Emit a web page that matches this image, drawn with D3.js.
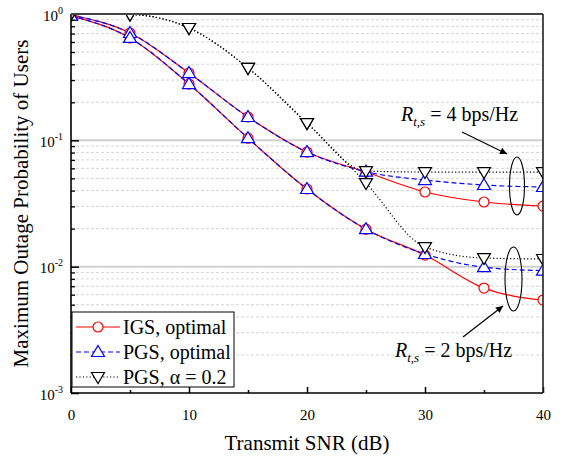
<!DOCTYPE html>
<html>
<head>
<meta charset="utf-8">
<script src="https://cdn.jsdelivr.net/npm/d3@7"></script>
<style>
  body { margin: 0; background: #fff; }
  svg { font-family: "Liberation Serif", "Times New Roman", serif; }
</style>
</head>
<body>
<div id="container"></div>
<script>
// data
const snr = [0, 5, 10, 15, 20, 25, 30, 35, 40];
const igs4 = [0.982, 0.707, 0.341, 0.153, 0.0808, 0.0561, 0.039, 0.0325, 0.0302];
const pgs4 = [0.982, 0.707, 0.341, 0.153, 0.0808, 0.0565, 0.0485, 0.0443, 0.0427];
const alpha4 = [1.0, 0.99, 0.775, 0.374, 0.137, 0.0571, 0.0561, 0.0561, 0.0561];
const igs2 = [0.968, 0.646, 0.279, 0.104, 0.0412, 0.0198, 0.01235, 0.00677, 0.00544];
const pgs2 = [0.968, 0.646, 0.279, 0.104, 0.0412, 0.0198, 0.0126, 0.0099, 0.0093];
const alpha2 = [1.0, 0.99, 0.775, 0.374, 0.137, 0.0459, 0.0143, 0.0117, 0.0115];

const xMajor = [0, 10, 20, 30, 40];
const xMinor = [5, 15, 25, 35];
const yDecades = [1e-3, 1e-2, 1e-1, 1];
const yExp = ["-3", "-2", "-1", "0"];
const legendLabels = ["IGS, optimal", "PGS, optimal", "PGS, \u03b1 = 0.2"];

const margin = {top: 14, right: 18, bottom: 63, left: 71},
      width = 561 - margin.left - margin.right,
      height = 456 - margin.top - margin.bottom;

const svg = d3.select("#container").append("svg")
  .attr("width", 561)
  .attr("height", 456);

const chart = svg.append("g")
  .attr("transform", `translate(${margin.left},${margin.top})`);

const x = d3.scaleLinear().domain([0, 40]).range([0, width]);
const y = d3.scaleLog().domain([1e-3, 1]).range([height, 0]);

// minor values 2..9 per decade
const yMinor = [];
[1e-3, 1e-2, 1e-1].forEach(d => { for (let k = 2; k <= 9; k++) yMinor.push(d * k); });

// grid
chart.append("g").selectAll("line")
  .data(yMinor)
  .join("line")
  .attr("x1", 0).attr("x2", width)
  .attr("y1", d => y(d)).attr("y2", d => y(d))
  .attr("stroke", "#d6d6d6")
  .attr("stroke-width", 1)
  .attr("stroke-dasharray", "3,2");

chart.append("g").selectAll("line")
  .data([1e-2, 1e-1])
  .join("line")
  .attr("x1", 0).attr("x2", width)
  .attr("y1", d => y(d)).attr("y2", d => y(d))
  .attr("stroke", "#d0d0d0")
  .attr("stroke-width", 2);

// clip for the curves
chart.append("clipPath").attr("id", "plotClip")
  .append("rect").attr("width", width).attr("height", height);

const plot = chart.append("g").attr("clip-path", "url(#plotClip)");

const upTri = "M0,-6.5L6.5,4.5L-6.5,4.5Z";
const downTri = "M-6.5,-4.5L6.5,-4.5L0,6.5Z";

const series = [
  {vals: igs4, color: "#ff0000", dash: null, mark: "circle"},
  {vals: igs2, color: "#ff0000", dash: null, mark: "circle"},
  {vals: pgs4, color: "#0000ff", dash: "5,3", mark: upTri},
  {vals: pgs2, color: "#0000ff", dash: "5,3", mark: upTri},
  {vals: alpha4, color: "#000000", dash: "1.2,2.2", mark: downTri},
  {vals: alpha2, color: "#000000", dash: "1.2,2.2", mark: downTri}
];

const line = d3.line()
  .x(d => x(d[0]))
  .y(d => y(d[1]))
  .curve(d3.curveMonotoneX);

series.forEach(s => {
  const pts = snr.map((v, i) => [v, s.vals[i]]);
  plot.append("path")
    .datum(pts)
    .attr("fill", "none")
    .attr("stroke", s.color)
    .attr("stroke-width", 1.2)
    .attr("stroke-dasharray", s.dash)
    .attr("d", line);
  s.pts = pts;
});

series.forEach(s => {
  if (s.mark === "circle") {
    plot.append("g").selectAll("circle")
      .data(s.pts)
      .join("circle")
      .attr("cx", d => x(d[0]))
      .attr("cy", d => y(d[1]))
      .attr("r", 5)
      .attr("fill", "white")
      .attr("stroke", s.color)
      .attr("stroke-width", 1.2);
  } else {
    plot.append("g").selectAll("path")
      .data(s.pts)
      .join("path")
      .attr("transform", d => `translate(${x(d[0])},${y(d[1])})`)
      .attr("d", s.mark)
      .attr("fill", "white")
      .attr("stroke", s.color)
      .attr("stroke-width", 1.2);
  }
});

// axes (ticks pointing inward)
chart.append("g")
  .attr("transform", `translate(0,${height})`)
  .call(d3.axisBottom(x).tickValues(xMajor).tickSize(-6).tickPadding(16)
    .tickFormat(d3.format("d")))
  .call(g => g.select(".domain").remove())
  .call(g => g.selectAll("text").attr("font-size", 15).attr("font-family", "Liberation Serif").attr("fill", "#000"))
  .call(g => g.selectAll("line").attr("stroke-width", 1.5));

chart.append("g")
  .attr("transform", `translate(0,${height})`)
  .call(d3.axisBottom(x).tickValues(xMinor).tickSize(-3).tickFormat(""))
  .call(g => g.select(".domain").remove())
  .call(g => g.selectAll("line").attr("stroke-width", 1.5));

chart.append("g")
  .call(d3.axisLeft(y).tickValues(yMinor).tickSize(-4).tickFormat(""))
  .call(g => g.select(".domain").remove())
  .call(g => g.selectAll("line").attr("stroke-width", 1.3));

const yAx = chart.append("g")
  .call(d3.axisLeft(y).tickValues(yDecades).tickSize(-8).tickFormat(""))
  .call(g => g.select(".domain").remove())
  .call(g => g.selectAll("line").attr("stroke-width", 1.5));

yAx.selectAll(".tick").each(function(d, i) {
  const t = d3.select(this).append("text")
    .attr("x", -8)
    .attr("y", 6)
    .attr("text-anchor", "end")
    .attr("fill", "#000")
    .attr("font-size", 15)
    .attr("font-family", "Liberation Serif");
  t.append("tspan").text("10");
  t.append("tspan").attr("dy", -7).attr("font-size", 10).text(yExp[i]);
});

// frame
chart.append("line").attr("x1", 0).attr("x2", width).attr("y1", height).attr("y2", height)
  .attr("stroke", "#000").attr("stroke-width", 1.6);
chart.append("line").attr("x1", 0).attr("x2", 0).attr("y1", 0).attr("y2", height)
  .attr("stroke", "#000").attr("stroke-width", 1.6);
chart.append("line").attr("x1", 0).attr("x2", width).attr("y1", 0).attr("y2", 0)
  .attr("stroke", "#444").attr("stroke-width", 2);
chart.append("line").attr("x1", width).attr("x2", width).attr("y1", 0).attr("y2", height)
  .attr("stroke", "#222").attr("stroke-width", 1.6);

// axis titles
svg.append("text")
  .attr("x", margin.left + width / 2)
  .attr("y", 450)
  .attr("text-anchor", "middle")
  .attr("font-size", 21)
  .text("Transmit SNR (dB)");

svg.append("text")
  .attr("transform", `translate(28,${margin.top + height / 2}) rotate(-90)`)
  .attr("text-anchor", "middle")
  .attr("font-size", 21)
  .text("Maximum Outage Probability of Users");

// legend
const legend = svg.append("g");
legend.append("rect")
  .attr("x", 72).attr("y", 312).attr("width", 162).attr("height", 75)
  .attr("fill", "white").attr("stroke", "#000").attr("stroke-width", 1);

const legendStyle = [series[0], series[2], series[4]];
legendStyle.forEach((s, i) => {
  const ly = 327 + i * 25;
  legend.append("line")
    .attr("x1", 76).attr("x2", 120).attr("y1", ly).attr("y2", ly)
    .attr("stroke", s.color).attr("stroke-width", 1.2)
    .attr("stroke-dasharray", s.dash);
  if (s.mark === "circle") {
    legend.append("circle").attr("cx", 98).attr("cy", ly).attr("r", 5)
      .attr("fill", "white").attr("stroke", s.color).attr("stroke-width", 1.2);
  } else {
    legend.append("path").attr("transform", `translate(98,${ly})`).attr("d", s.mark)
      .attr("fill", "white").attr("stroke", s.color).attr("stroke-width", 1.2);
  }
  legend.append("text")
    .attr("x", 123).attr("y", ly + 7)
    .attr("font-size", 20)
    .text(legendLabels[i]);
});

// annotations
svg.append("defs").append("marker")
  .attr("id", "arrow")
  .attr("viewBox", "0 0 10 10")
  .attr("refX", 10).attr("refY", 5)
  .attr("markerWidth", 10).attr("markerHeight", 7)
  .attr("markerUnits", "userSpaceOnUse")
  .attr("orient", "auto")
  .append("path").attr("d", "M0,0L10,5L0,10Z").attr("fill", "#000");

function rateLabel(tx, ty, rate) {
  const t = svg.append("text").attr("x", tx).attr("y", ty).attr("font-size", 20);
  t.append("tspan").attr("font-style", "italic").text("R");
  t.append("tspan").attr("font-style", "italic").attr("font-size", 13).attr("dy", 5).text("t,s");
  t.append("tspan").attr("dy", -5).text(` = ${rate} bps/Hz`);
}
rateLabel(401, 121, 4);
rateLabel(395, 357, 2);

svg.append("line").attr("x1", 462).attr("y1", 132).attr("x2", 507).attr("y2", 154)
  .attr("stroke", "#000").attr("stroke-width", 1.2).attr("marker-end", "url(#arrow)");
svg.append("line").attr("x1", 463).attr("y1", 337).attr("x2", 503).attr("y2", 306)
  .attr("stroke", "#000").attr("stroke-width", 1.2).attr("marker-end", "url(#arrow)");

svg.append("ellipse").attr("cx", 517).attr("cy", 186).attr("rx", 7.5).attr("ry", 29)
  .attr("fill", "none").attr("stroke", "#000").attr("stroke-width", 1.1);
svg.append("ellipse").attr("cx", 513.5).attr("cy", 279).attr("rx", 8.5).attr("ry", 32)
  .attr("fill", "none").attr("stroke", "#000").attr("stroke-width", 1.1);
</script>
</body>
</html>
